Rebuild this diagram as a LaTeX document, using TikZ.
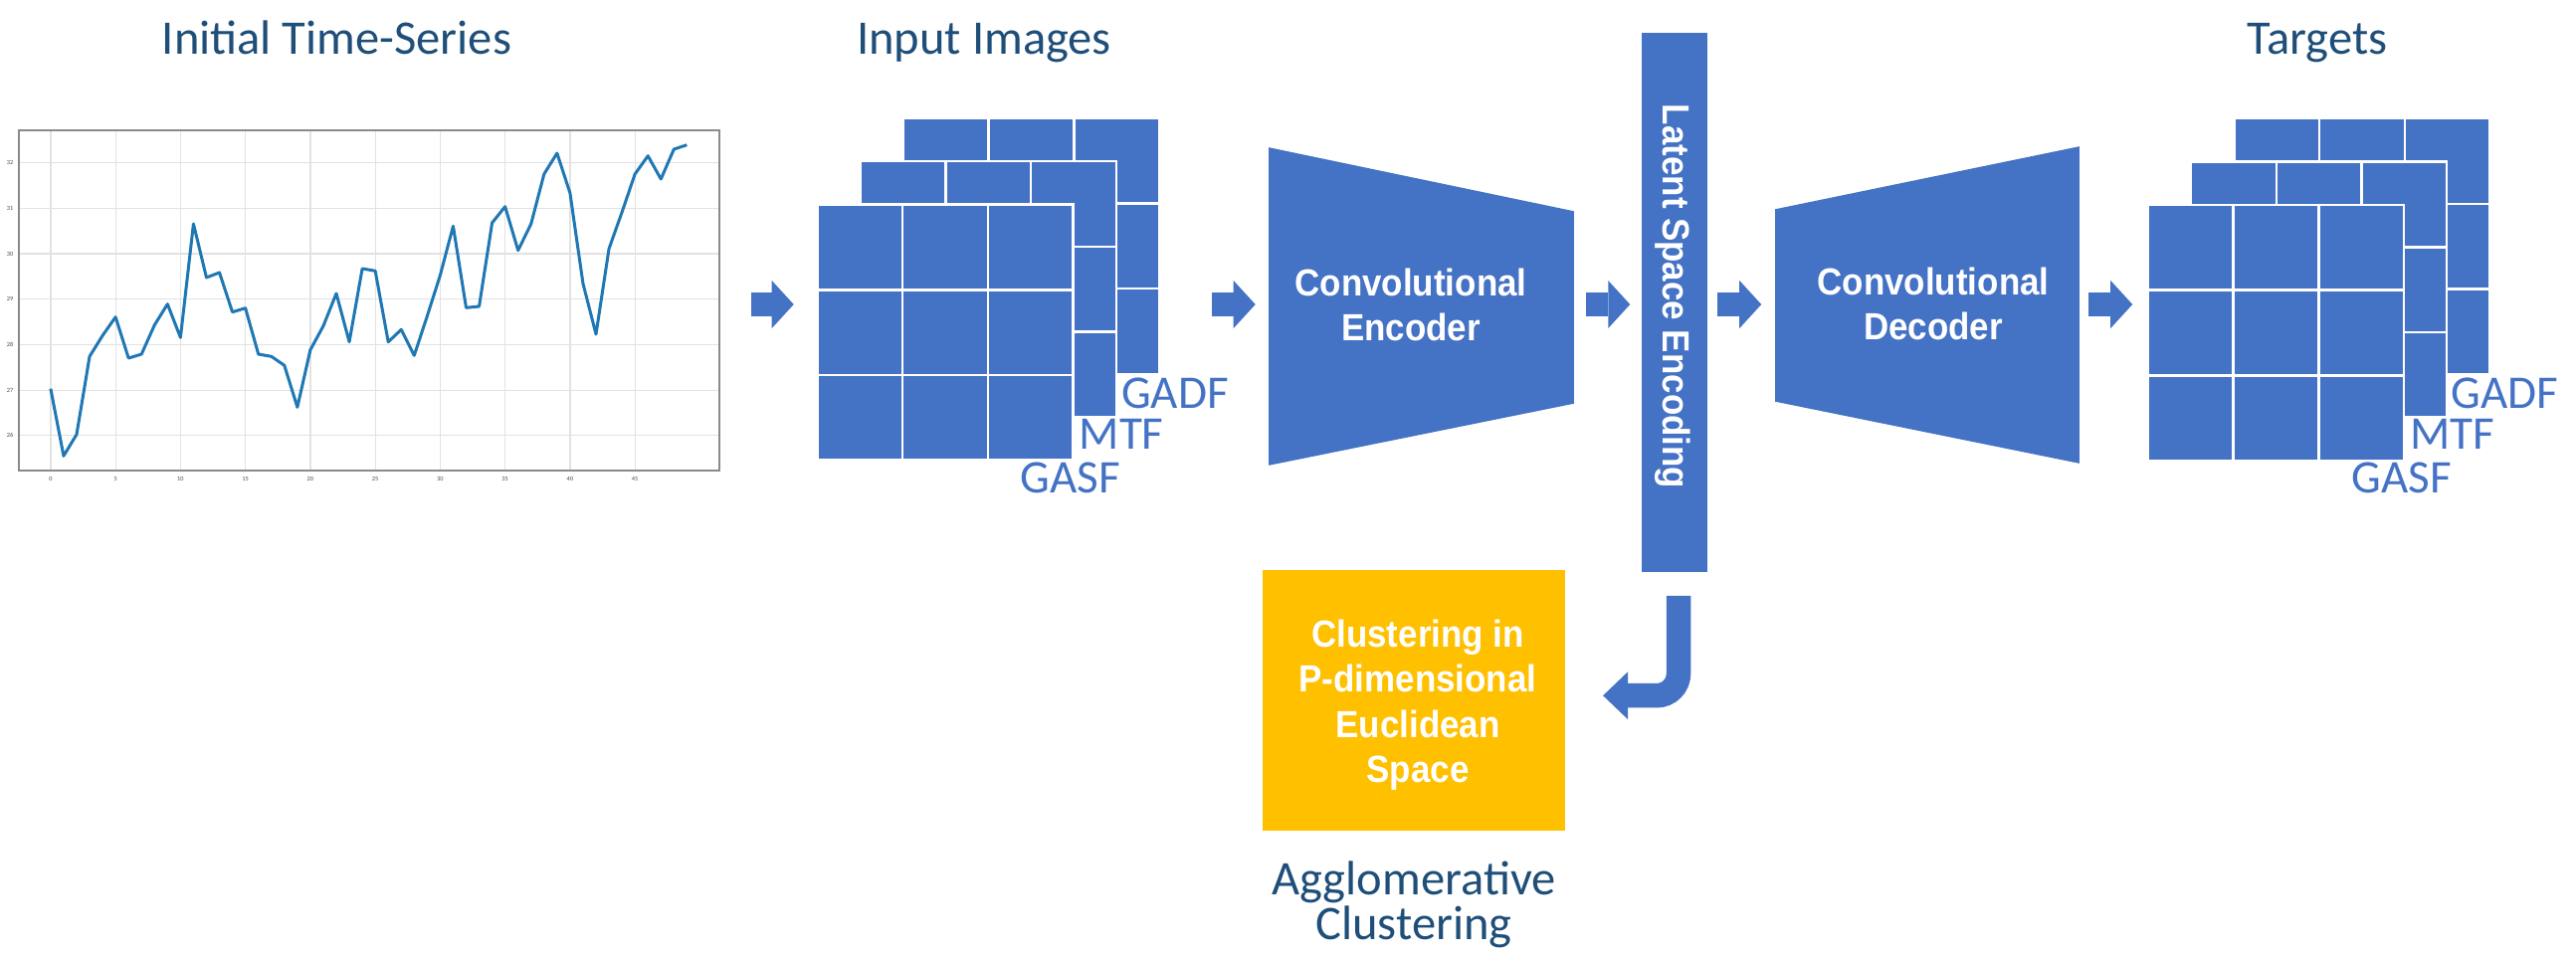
\documentclass[tikz,border=0pt]{standalone}
\usepackage{fontspec}
\setmainfont{Carlito}
\newfontfamily\boxfont[FakeStretch=0.92]{Liberation Sans}
\usetikzlibrary{arrows.meta}
\definecolor{ppblue}{HTML}{4472C4}
\definecolor{ppgold}{HTML}{FFC000}
\definecolor{pptitle}{HTML}{1F4E79}
\definecolor{ppline}{HTML}{1F77B4}
\definecolor{ppgrid}{HTML}{E2E2E2}
\definecolor{ppframe}{HTML}{8A8A8A}
\tikzset{
  maplayer/.pic={
    \node[layer] (-box) at (0,0) {};
    \foreach \i in {0,1,2}
      \foreach \j in {0,1,2}
        \filldraw[cell] (-128.5+\i*85.667,-128.5+\j*85.667) rectangle ++(85.667,85.667);
  }
}
\begin{document}
\begin{tikzpicture}[x=0.01cm, y=-0.01cm,
  titletext/.style={font=\fontsize{13.8}{12.8}\selectfont, text=pptitle, inner sep=0, anchor=base},
  maptext/.style={font=\fontsize{13.4}{16}\selectfont, text=ppblue, inner sep=0, anchor=base west},
  whitetext/.style={font=\boxfont\bfseries\fontsize{10.8}{12.9}\selectfont, text=white, inner sep=0, align=center},
  ticklabel/.style={font=\fontsize{1.8}{2}\selectfont, text=black!70, inner sep=0},
  gridline/.style={draw=ppgrid, line width=0.012cm},
  blockarrow/.style={draw=ppblue, line width=0.24cm, -{Triangle[length=0.22cm, width=0.48cm, line width=0pt]}},
  bentarrow/.style={draw=ppblue, line width=0.245cm, -{Triangle[length=0.25cm, width=0.48cm, line width=0pt]}},
  cell/.style={fill=ppblue, draw=white, line width=0.025cm},
  layer/.style={inner sep=0, minimum width=2.57cm, minimum height=2.57cm},
]
\useasboundingbox (0,0) rectangle (2589,964);
\coordinate (axis) at (0,306);

% ---------- titles ----------
\node[titletext] (t1) at (338.5,55) {Initial Time-Series};
\node[titletext] (t2) at (989,55) {Input Images};
\node[titletext] (t3) at (2329,55) {Targets};

% ---------- time-series chart ----------
\foreach \k in {0,...,9}
  \draw[gridline] ({50.9+65.25*\k},131) -- ({50.9+65.25*\k},473);
\foreach \g in {163.3,209.3,255,300.7,346.7,392.3,437.3}
  \draw[gridline] (19,\g) -- (723,\g);
\node[draw=ppframe, line width=0.015cm, inner sep=0, minimum width=7.04cm, minimum height=3.42cm] (chart) at (371,302) {};
\draw[ppline, line width=0.03cm, line join=round] plot coordinates {
 (50.9,390.7) (63.95,458.3) (77.0,436.7) (90.05,358.3) (103.1,337.3) (116.15,318.7)
 (129.2,360) (142.25,356) (155.3,326.7) (168.35,305.7) (181.4,339.3) (194.45,225)
 (207.5,279) (220.55,274) (233.6,313.7) (246.65,309.7) (259.7,356) (272.75,358.3)
 (285.8,367.3) (298.85,409.3) (311.9,351.7) (324.95,327.7) (338.0,295) (351.05,343.7)
 (364.1,270) (377.15,272.3) (390.2,343.7) (403.25,331.3) (416.3,357.3) (429.35,317.7)
 (442.4,276.7) (455.45,227.3) (468.5,309.3) (481.55,308) (494.6,224) (507.65,207.7)
 (520.7,251.7) (533.75,225) (546.8,175) (559.85,154) (572.9,194) (585.95,285)
 (599.0,336) (612.05,250) (625.1,213.3) (638.15,175) (651.2,156.7) (664.25,180)
 (677.3,150) (690.35,145.7)};
\foreach \k/\lab in {0/0,1/5,2/10,3/15,4/20,5/25,6/30,7/35,8/40,9/45}
  \node[ticklabel] (xt\k) at ({50.9+65.25*\k},481) {\lab};
\foreach \g/\lab in {163.3/32,209.3/31,255/30,300.7/29,346.7/28,392.3/27,437.3/26}
  \node[ticklabel] (yt\lab) at (10,\g) {\lab};

% ---------- input images ----------
\pic (inpC) at (1036.5,247.3) {maplayer};
\pic (inpB) at (993.3,290.7) {maplayer};
\pic (inpA) at (950,334.2) {maplayer};
\node[maptext] (inpGADF) at (1126.5,410) {GADF};
\node[maptext] (inpMTF) at (1084,451.7) {MTF};
\node[maptext] (inpGASF) at (1025,495) {GASF};

% ---------- encoder ----------
\node[inner sep=0, minimum width=3.05cm, minimum height=3.18cm] (enc) at (1428.5,308) {};
\fill[ppblue] (enc.north west) -- ([yshift=-0.64cm]enc.north east) -- ([yshift=0.62cm]enc.south east) -- (enc.south west) -- cycle;
\node[whitetext] (enctxt) at (1418,306.5) {Convolutional\\Encoder};

% ---------- latent bar ----------
\node[fill=ppblue, inner sep=0, minimum width=0.66cm, minimum height=5.42cm] (lat) at (1683,304) {};
\node[whitetext, rotate=-90] (lattxt) at (1681,298) {Latent Space Encoding};

% ---------- decoder ----------
\node[inner sep=0, minimum width=3.04cm, minimum height=3.17cm] (dec) at (1937,306.5) {};
\fill[ppblue] ([yshift=-0.63cm]dec.north west) -- (dec.north east) -- (dec.south east) -- ([yshift=0.62cm]dec.south west) -- cycle;
\node[whitetext] (dectxt) at (1943,305.5) {Convolutional\\Decoder};

% ---------- targets ----------
\pic (tgtC) at (2373.9,247.7) {maplayer};
\pic (tgtB) at (2330.7,291.1) {maplayer};
\pic (tgtA) at (2287.5,334.5) {maplayer};
\node[maptext] (tgtGADF) at (2463,410.7) {GADF};
\node[maptext] (tgtMTF) at (2421.3,451.7) {MTF};
\node[maptext] (tgtGASF) at (2363,495) {GASF};

% ---------- clustering ----------
\node[fill=ppgold, inner sep=0, minimum width=3.04cm, minimum height=2.62cm] (clu) at (1421.3,704.2) {};
\node[whitetext] (clutxt) at (1425,708.5) {Clustering in\\P-dimensional\\Euclidean\\Space};
\node[titletext, anchor=center, align=center] (aggl) at (1421,909) {Agglomerative\\Clustering};

% ---------- arrows ----------
\draw[blockarrow, shorten <=0.31cm, shorten >=0.23cm] (chart.east |- axis) -- (inpA-box.west |- axis);
\draw[blockarrow, shorten <=0.52cm, shorten >=0.135cm] (inpC-box.east |- axis) -- (enc.west |- axis);
\draw[blockarrow, shorten <=0.12cm, shorten >=0.11cm] (enc.east |- axis) -- (lat.west |- axis);
\draw[blockarrow, shorten <=0.09cm, shorten >=0.14cm] (lat.east |- axis) -- (dec.west |- axis);
\draw[blockarrow, shorten <=0.09cm, shorten >=0.15cm] (dec.east |- axis) -- (tgtA-box.west |- axis);
\draw[bentarrow, rounded corners=0.22cm, shorten <=0.23cm, shorten >=0.37cm] ([xshift=0.04cm]lat.south) |- ([yshift=0.05cm]clu.east);
\end{tikzpicture}
\end{document}
